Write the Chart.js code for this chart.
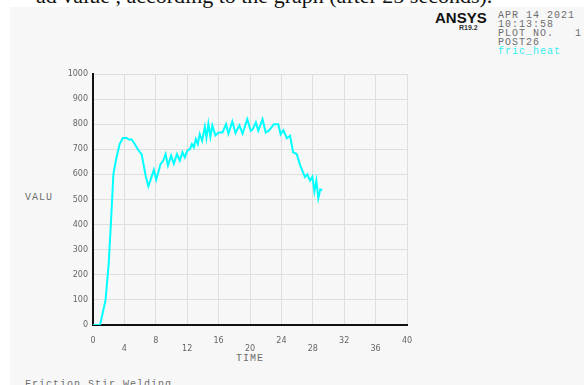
<!DOCTYPE html>
<html>
<head>
<meta charset="utf-8">
<script src="https://cdn.jsdelivr.net/npm/chart.js@4/dist/chart.umd.min.js"></script>
<style>
  html, body { margin: 0; padding: 0; background: #ffffff; }
  body { width: 584px; height: 385px; position: relative; overflow: hidden; }
  #panel { position: absolute; left: 10px; top: 7px; right: 0; bottom: 0; background: #f7f7f7; }
  #wrap { position: absolute; left: 0; top: 0; width: 584px; height: 385px; }
  .t { position: absolute; white-space: pre; line-height: 1; }
  .mono { font-family: "Liberation Mono", monospace; font-size: 10px; color: #6e6e6e; letter-spacing: 1px; }
  #caption { left: 36px; top: -15px; font-family: "Liberation Serif", serif; font-size: 22px; color: #111; }
  #brand { left: 435px; top: 10px; font-family: "Liberation Sans", sans-serif; font-weight: bold; font-size: 15px; color: #111; }
  #rel { left: 459px; top: 24px; font-family: "Liberation Sans", sans-serif; font-weight: bold; font-size: 7px; color: #333; }
</style>
</head>
<body>
<div id="panel"></div>
<div class="t" id="caption">ad value , according to the graph (after 25 seconds).</div>
<div class="t" id="brand">ANSYS</div>
<div class="t" id="rel">R19.2</div>
<div class="t mono" style="left:498px;top:11px;">APR 14 2021</div>
<div class="t mono" style="left:498px;top:20px;">10:13:58</div>
<div class="t mono" style="left:498px;top:29px;">PLOT NO.   1</div>
<div class="t mono" style="left:498px;top:38px;">POST26</div>
<div class="t mono" style="left:498px;top:47px;color:#33eeee;">fric_heat</div>
<div class="t mono" style="left:25px;top:193px;">VALU</div>
<div class="t mono" style="left:236px;top:354px;">TIME</div>
<div class="t mono" style="left:25px;top:380px;">Friction Stir Welding</div>
<div id="wrap"><canvas id="c" width="584" height="385"></canvas></div>
<script>
// fric_heat history: time values and the matching heat values
const timeValues = [
  0, 0.9, 1.6, 2.0, 2.3, 2.6, 3.0, 3.4, 3.8, 4.3, 4.6, 4.9, 5.2, 5.7, 6.2, 6.7,
  7.05, 7.45, 7.75, 8.05, 8.6, 8.95, 9.25, 9.55, 9.95, 10.3, 10.7, 11.05, 11.4, 11.7,
  12.0, 12.35, 12.6, 12.85, 13.1, 13.35, 13.6, 13.9, 14.25, 14.45, 14.7, 14.95, 15.2,
  15.6, 16.0, 16.5, 16.95, 17.25, 17.75, 18.15, 18.65, 19.05, 19.65, 20.1, 20.35,
  20.75, 21.05, 21.6, 22.0, 22.4, 23.05, 23.6, 23.9, 24.25, 24.7, 25.1, 25.5, 25.95,
  26.4, 27.0, 27.3, 27.65, 27.95, 28.2, 28.45, 28.7, 28.95, 29.2
];
const heatValues = [
  0, 0, 100, 245, 417, 602, 668, 721, 745, 745, 738, 740, 727, 700, 680, 595,
  553, 589, 618, 579, 641, 655, 681, 635, 675, 642, 681, 655, 688, 668,
  694, 701, 721, 708, 741, 721, 761, 734, 790, 745, 802, 750, 795,
  755, 767, 767, 800, 762, 811, 765, 796, 762, 820, 774, 780,
  807, 774, 820, 767, 774, 800, 800, 760, 776, 744, 754, 688, 681,
  635, 589, 600, 575, 591, 532, 575, 505, 540, 536
];
const xTicks = [0, 4, 8, 12, 16, 20, 24, 28, 32, 36, 40];
const yTicks = [0, 100, 200, 300, 400, 500, 600, 700, 800, 900, 1000];

const points = timeValues.map((t, i) => ({ x: t, y: heatValues[i] }));

new Chart(document.getElementById('c'), {
  type: 'line',
  data: {
    datasets: [{
      label: 'fric_heat',
      data: points,
      borderColor: '#00ffff',
      borderWidth: 2,
      pointRadius: 0,
      tension: 0,
      fill: false
    }]
  },
  options: {
    responsive: false,
    animation: false,
    layout: { padding: { left: 0, top: 74, right: 177, bottom: 0 } },
    plugins: { legend: { display: false }, tooltip: { enabled: false } },
    scales: {
      x: {
        type: 'linear',
        min: 0, max: 40,
        afterBuildTicks: s => { s.ticks = xTicks.map(v => ({ value: v })); },
        afterFit: s => { s.height = 60; },
        grid: { color: '#dedede', lineWidth: 1, drawTicks: false },
        border: { color: '#111', width: 2 },
        ticks: {
          padding: 12,
          color: '#666',
          font: { family: 'DejaVu Sans', size: 8, lineHeight: 1.0 },
          maxRotation: 0,
          autoSkip: false,
          // staggered labels: multiples of 8 on the first row, the rest one row lower
          callback: v => (v % 8 === 0 ? [String(v)] : ['', String(v)])
        }
      },
      y: {
        type: 'linear',
        min: 0, max: 1000,
        afterBuildTicks: s => { s.ticks = yTicks.map(v => ({ value: v })); },
        afterFit: s => { s.width = 93; },
        grid: { color: '#dedede', lineWidth: 1, drawTicks: false },
        border: { color: '#111', width: 2 },
        ticks: {
          padding: 5,
          color: '#666',
          font: { family: 'DejaVu Sans', size: 8 },
          autoSkip: false,
          callback: v => String(v)
        }
      }
    }
  }
});
</script>
</body>
</html>
